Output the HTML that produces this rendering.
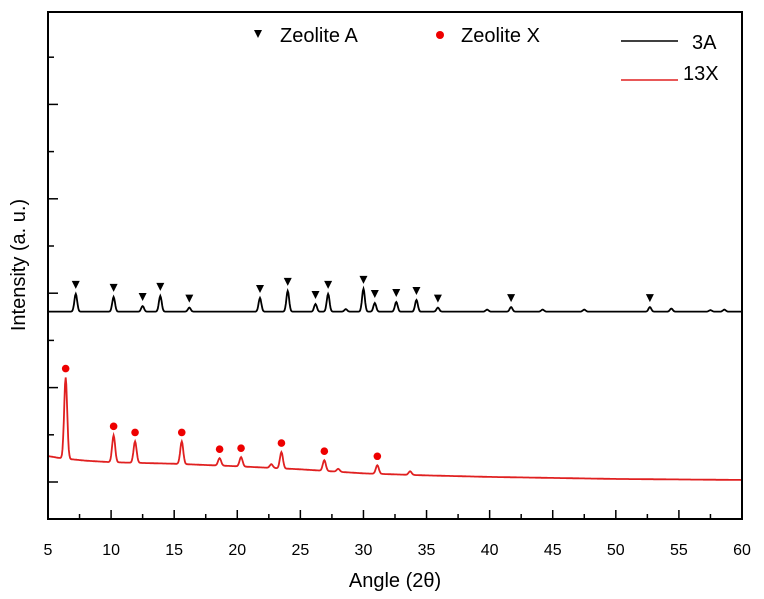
<!DOCTYPE html>
<html><head><meta charset="utf-8"><style>
body{margin:0;background:#fff;}
svg{display:block;font-family:"Liberation Sans",sans-serif;}
</style></head><body>
<svg id="chart" width="764" height="599">
<g id="marks"></g>
<rect x="48" y="12" width="694" height="507" fill="none" stroke="#000" stroke-width="2"/>
<g id="axes"></g>
<text x="395" y="587" font-size="20" text-anchor="middle">Angle (2θ)</text>
<text x="0" y="0" font-size="20" text-anchor="middle" transform="translate(25,265) rotate(-90)">Intensity (a. u.)</text>
<g><path d="M254,30 L262,30 L258,38 Z" fill="#000"/><text x="280" y="42" font-size="20">Zeolite A</text></g>
<g><circle cx="440" cy="35" r="4" fill="#e00"/><text x="461" y="42" font-size="20">Zeolite X</text></g>
<g><line x1="621" y1="41" x2="678" y2="41" stroke="#000" stroke-width="1.5"/><text x="692" y="49" font-size="20">3A</text></g>
<g><line x1="621" y1="80" x2="678" y2="80" stroke="#e02020" stroke-width="1.5"/><text x="683" y="80" font-size="20">13X</text></g>
</svg>
<script>
const xTicks=[5,10,15,20,25,30,35,40,45,50,55,60];
const blackBaseX=[5,60];
const blackBaseY=[40.9,40.9];
const blackPeakPos=[7.2,10.2,12.5,13.9,16.2,21.8,24.0,26.2,27.2,30.0,30.9,32.6,34.2,35.9,41.7,52.7,44.2,47.5,54.4,57.5,58.6,28.6,39.8];
const blackPeakTop=[44.4,43.8,42.0,44.0,41.7,43.6,45.0,42.4,44.4,45.4,42.6,42.8,43.2,41.7,41.8,41.8,41.3,41.3,41.5,41.2,41.3,41.4,41.3];
const blackMarked=16;
const redBaseX=[5,6,8,10,15,20,25,30,35,40,50,60];
const redBaseY=[12.4,12.0,11.5,11.2,10.9,10.4,9.8,9.0,8.6,8.3,7.9,7.7];
const redPeakPos=[6.4,10.2,11.9,15.6,18.6,20.3,23.5,26.9,31.1,22.7,28.0,33.7];
const redPeakTop=[27.9,16.5,15.3,15.3,12.0,12.2,13.2,11.6,10.6,10.8,9.9,9.4];
const redMarked=9;
const X=v=>48+(v-5)*(694/55);
const Y=v=>519-v*5.07;
const NS="http://www.w3.org/2000/svg";
function mk(t,a,p){const e=document.createElementNS(NS,t);for(const k in a)e.setAttribute(k,a[k]);p.appendChild(e);return e;}
const axes=document.getElementById('axes'),marks=document.getElementById('marks');
xTicks.forEach((t,i)=>{
 const g=mk('g',{},axes);
 
 
 mk('line',{x1:X(t),x2:X(t),y1:519,y2:510,stroke:'#000','stroke-width':1.5},g);
 if(i<xTicks.length-1)mk('line',{x1:X(t+2.5),x2:X(t+2.5),y1:519,y2:514,stroke:'#000','stroke-width':1.5},g);
 const tx=mk('text',{x:X(t),y:555,'font-size':16,'text-anchor':'middle'},g);tx.textContent=t;
});
for(let k=0;k<10;k++){const y=482-k*47.2;const l=mk('line',{x1:48,x2:k%2?54:58,y1:y,y2:y,stroke:'#000','stroke-width':1.5},axes);
 
 }
function base(xs,ys,v){for(let i=0;i<xs.length-1;i++)if(v<=xs[i+1]){const f=(v-xs[i])/(xs[i+1]-xs[i]);return ys[i]+f*(ys[i+1]-ys[i]);}return ys[ys.length-1];}
function curve(bx,by,pp,pt,w){let d='';for(let v=5;v<=60.001;v+=0.05){let b=base(bx,by,v),s=b;pp.forEach((p,i)=>{const h=pt[i]-base(bx,by,p);s+=h*Math.exp(-((v-p)*(v-p))/(2*w*w));});d+=(d?'L':'M')+X(v).toFixed(1)+','+Y(s).toFixed(1);}return d;}
const bl=mk('path',{d:curve(blackBaseX,blackBaseY,blackPeakPos,blackPeakTop,0.11),fill:'none',stroke:'#000','stroke-width':1.8},marks);


const rl=mk('path',{d:curve(redBaseX,redBaseY,redPeakPos,redPeakTop,0.12),fill:'none',stroke:'#e02020','stroke-width':1.8},marks);


for(let i=0;i<blackMarked;i++){const x=X(blackPeakPos[i]),y=Y(blackPeakTop[i])-5;
 const m=mk('path',{d:`M${x-4},${y-8}L${x+4},${y-8}L${x},${y}Z`,fill:'#000'},marks);
 
 }
for(let i=0;i<redMarked;i++){const m=mk('circle',{cx:X(redPeakPos[i]),cy:Y(redPeakTop[i])-9,r:3.8,fill:'#e00'},marks);
 
 }
</script>
</body></html>
